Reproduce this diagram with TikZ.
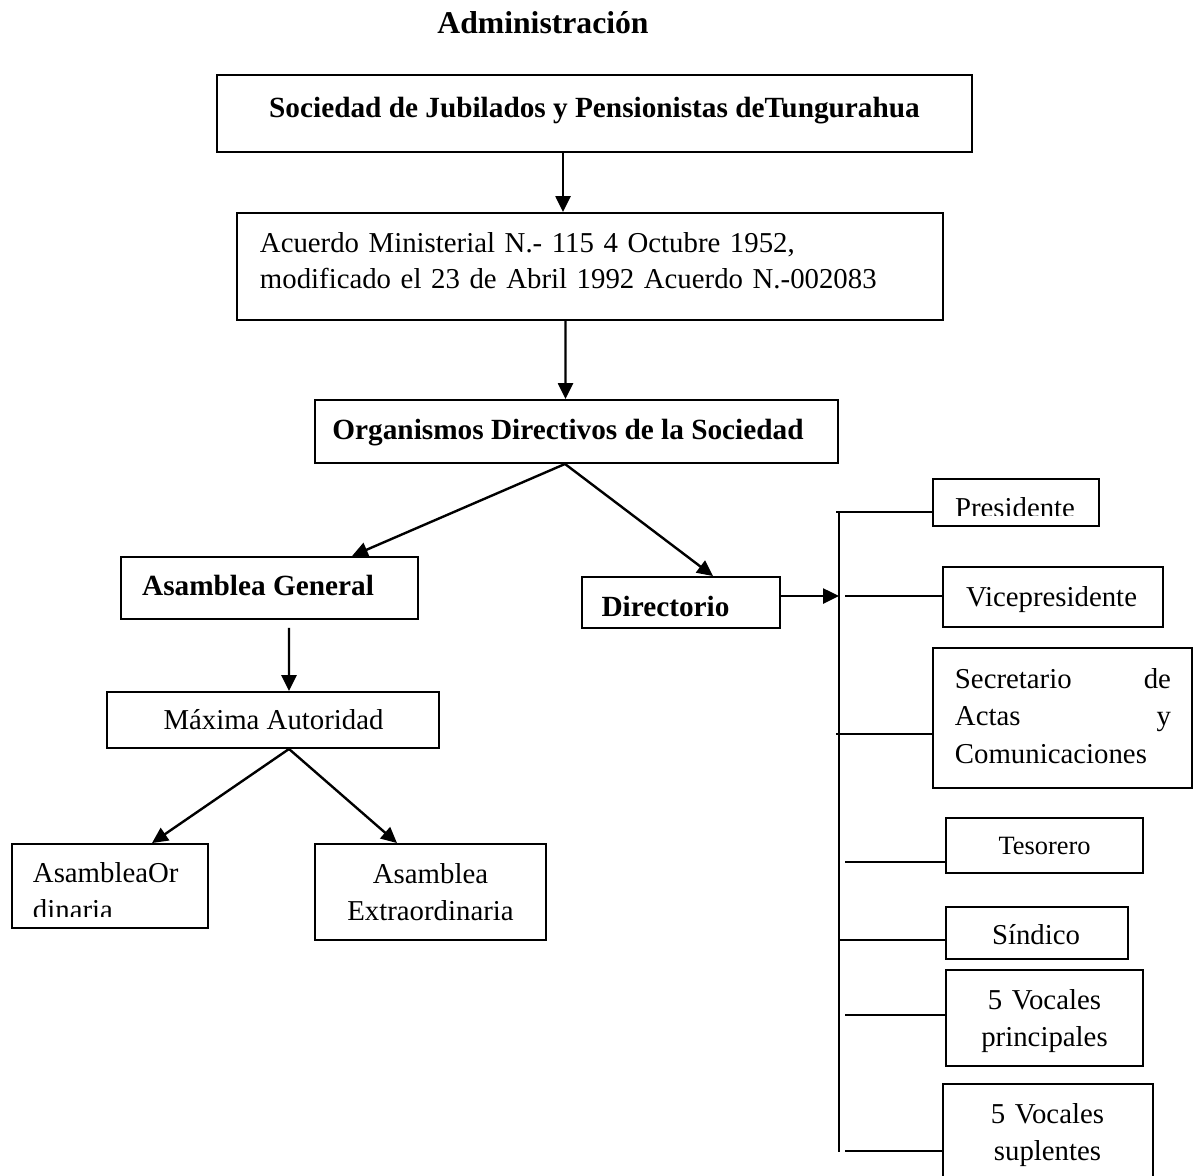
\documentclass[tikz,border=0pt]{standalone}
\usepackage{fontspec}
\setmainfont{Liberation Serif}
\usetikzlibrary{arrows.meta}
\newdimen\pxu
\pxu=0.41667pt
\begin{document}
\begin{tikzpicture}[x=0.41667pt,y=-0.41667pt,line width=0.8pt,
    >={Triangle[length=6.6pt,width=6.2pt]},
    box/.style={draw,inner sep=0pt},
    flecha/.style={->,line width=1pt},
    txt/.style={inner sep=0pt,font=\fontsize{12}{15.8}\selectfont},
    btxt/.style={inner sep=0pt,font=\bfseries\fontsize{12.2}{15.8}\selectfont}]
\useasboundingbox (0,0) rectangle (1199,1175);
\clip (0,0) rectangle (1199,1175);
\node[inner sep=0pt,anchor=base,font=\bfseries\fontsize{13.2}{16}\selectfont] (titulo) at (543,33) {Administración};

\node[box,minimum width=755\pxu,minimum height=77\pxu] (soc) at (594.5,113.5) {};
\node[btxt,anchor=base] (socT) at (594.5,117) {Sociedad de Jubilados y Pensionistas deTungurahua};
\node[box,minimum width=706\pxu,minimum height=107\pxu] (acu) at (590,266.5) {};
\node[txt,anchor=base west,text width=660\pxu,align=left,font=\fontsize{12}{15.4}\selectfont] (acuT) at (259,252) {Acuerdo Ministerial N.- 115 4 Octubre 1952,\\modificado el 23 de Abril 1992 Acuerdo N.-002083};
\node[box,minimum width=523\pxu,minimum height=63\pxu] (org) at (576.5,431.5) {};
\node[btxt,anchor=base] (orgT) at (568,439) {Organismos Directivos de la Sociedad};
\node[box,minimum width=297\pxu,minimum height=62\pxu] (asg) at (269.5,588) {};
\node[btxt,anchor=base] (asgT) at (258,595) {Asamblea General};
\node[box,minimum width=198\pxu,minimum height=51\pxu] (dir) at (681,602.5) {};
\node[btxt,anchor=base] (dirT) at (665.5,616) {Directorio};
\node[box,minimum width=332\pxu,minimum height=56\pxu] (max) at (273,720) {};
\node[txt,anchor=base] (maxT) at (273.5,729) {Máxima Autoridad};
\node[box,minimum width=196\pxu,minimum height=84\pxu] (ord) at (110,886) {};
\begin{scope}
\clip (12,844) rectangle (208,916);
\node[txt,anchor=base west,text width=170\pxu,align=left] (ordT) at (32,882) {AsambleaOr\\dinaria};
\end{scope}
\node[box,minimum width=231\pxu,minimum height=96\pxu] (ext) at (430.5,892) {};
\node[txt,anchor=base,text width=231\pxu,align=center] (extT) at (430.5,883) {Asamblea\\Extraordinaria};

\node[box,minimum width=166\pxu,minimum height=47\pxu] (pres) at (1016,502.5) {};
\begin{scope}
\clip (933,479) rectangle (1099,515);
\node[txt,anchor=base] (presT) at (1015,517) {Presidente};
\end{scope}
\node[box,minimum width=220\pxu,minimum height=60\pxu] (vice) at (1053,597) {};
\node[txt,anchor=base] (viceT) at (1051.5,606) {Vicepresidente};
\node[box,minimum width=259\pxu,minimum height=140\pxu] (sec) at (1062.5,718) {};
\node[txt,anchor=base west,text width=216\pxu,align=left] (secT) at (954,688) {Secretario\hfill de\\Actas\hfill y\\Comunicaciones};
\node[box,minimum width=197\pxu,minimum height=55\pxu] (tes) at (1044.5,845.5) {};
\node[txt,anchor=base,font=\fontsize{11}{14}\selectfont] (tesT) at (1044.5,854) {Tesorero};
\node[box,minimum width=182\pxu,minimum height=52\pxu] (sin) at (1037,933) {};
\node[txt,anchor=base] (sinT) at (1036,944) {Síndico};
\node[box,minimum width=197\pxu,minimum height=96\pxu] (vp) at (1044.5,1018) {};
\node[txt,anchor=base,text width=197\pxu,align=center] (vpT) at (1044.5,1009) {5 Vocales\\principales};
\node[box,minimum width=210\pxu,minimum height=116\pxu] (vs) at (1048,1142) {};
\node[txt,anchor=base,text width=210\pxu,align=center] (vsT) at (1047.5,1123) {5 Vocales\\suplentes};

\draw[flecha] ([xshift=-31.5\pxu]soc.south) -- ([xshift=-27\pxu]acu.north);
\draw[flecha] ([xshift=-24.5\pxu]acu.south) -- ([xshift=-11\pxu]org.north);
\draw[flecha] ([xshift=-11.5\pxu]org.south) -- ([xshift=82.5\pxu]asg.north);
\draw[flecha] ([xshift=-11.5\pxu]org.south) -- ([xshift=32\pxu]dir.north);
\draw[flecha] ([xshift=19.5\pxu,yshift=-8\pxu]asg.south) -- ([xshift=16\pxu]max.north);
\draw[flecha] ([xshift=16\pxu]max.south) -- ([xshift=42\pxu]ord.north);
\draw[flecha] ([xshift=16\pxu]max.south) -- ([xshift=-33.5\pxu]ext.north);

\coordinate (bt) at (839,512);
\coordinate (bb) at (839,1152);
\coordinate (bin) at (839,596);
\draw (bt) -- (bb);
\draw[flecha] (dir.east |- bin) -- (bin);
\foreach \n/\sx/\yy in {pres/836/512,vice/845/596,sec/836/734,tes/845/862,sin/838/940,vp/845/1015,vs/845/1151}{
  \coordinate (s\n) at (\sx,\yy);
  \draw (s\n) -- (s\n -| \n.west);
}
\end{tikzpicture}
\end{document}
